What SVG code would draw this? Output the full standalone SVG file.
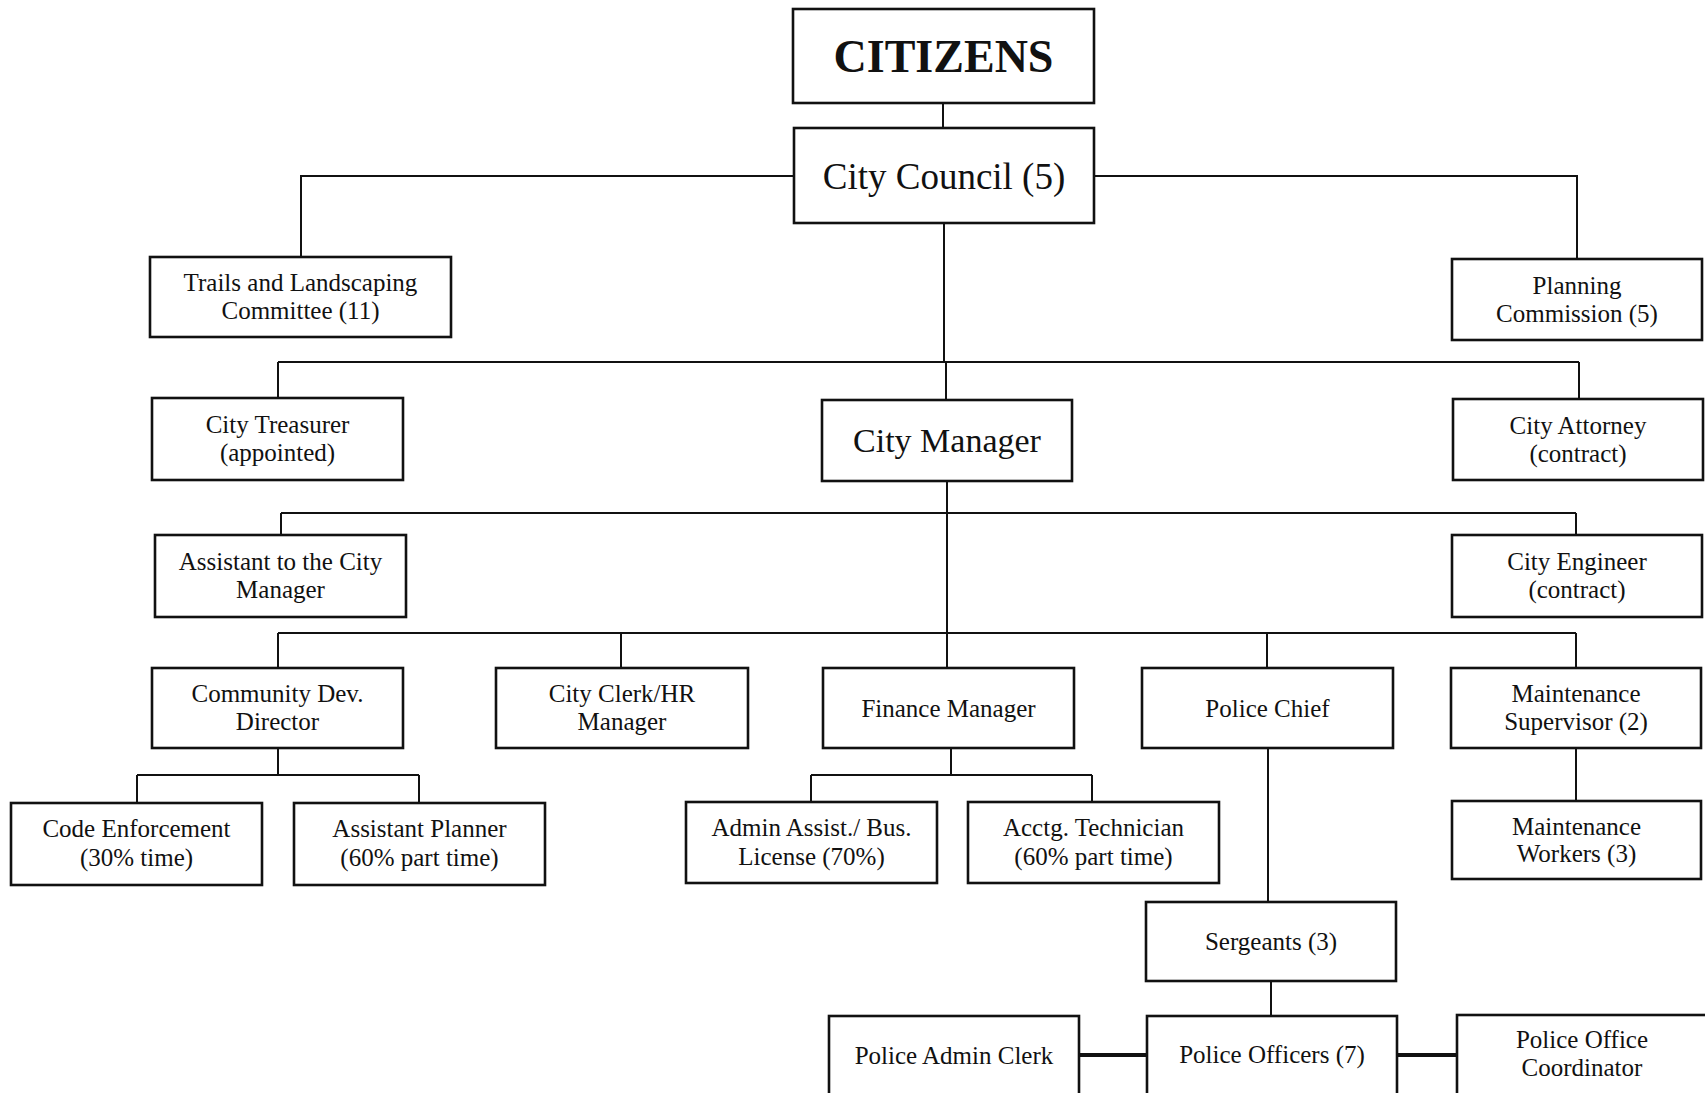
<svg xmlns="http://www.w3.org/2000/svg" width="1705" height="1093" viewBox="0 0 1705 1093">
<style>
.box{fill:#fff;stroke:#111;stroke-width:2.6}
.t{font-family:"Liberation Serif","Times New Roman",serif;font-size:25px;fill:#111;text-anchor:middle}
.b{font-size:34px}
.bc{font-size:37px}
.h{font-size:46px;font-weight:bold}
.c{fill:none;stroke:#111;stroke-width:2}
.k{fill:none;stroke:#111;stroke-width:4}
</style>
<rect width="1705" height="1093" fill="#fff"/>
<g id="connectors">
<path class="c" d="M943 103V128"/>
<path class="c" d="M794 176H301V257M1094 176H1577V259"/>
<path class="c" d="M944 223V362M278 362H1579M278 362V398M946 362V400M1579 362V399"/>
<path class="c" d="M947 481V668M281 513H1576M281 513V535M1576 513V535"/>
<path class="c" d="M278 633H1576M278 633V668M621 633V668M1267 633V668M1576 633V668"/>
<path class="c" d="M278 748V775M137 775H419M137 775V803M419 775V803"/>
<path class="c" d="M951 748V775M811 775H1092M811 775V802M1092 775V802"/>
<path class="c" d="M1268 748V902M1271 981V1016M1576 748V801"/>
<path class="k" d="M1079 1055H1147M1397 1055H1457"/>
</g>
<g id="citizens"><rect class="box" x="793" y="9" width="301" height="94"/><text class="t h" x="943.5" y="72">CITIZENS</text></g>
<g id="council"><rect class="box" x="794" y="128" width="300" height="95"/><text class="t bc" x="944" y="189">City Council (5)</text></g>
<g id="trails"><rect class="box" x="150" y="257" width="301" height="80"/><text class="t" x="300.5" y="291">Trails and Landscaping</text><text class="t" x="300.5" y="319">Committee (11)</text></g>
<g id="planning"><rect class="box" x="1452" y="259" width="250" height="81"/><text class="t" x="1577" y="294">Planning</text><text class="t" x="1577" y="322">Commission (5)</text></g>
<g id="treasurer"><rect class="box" x="152" y="398" width="251" height="82"/><text class="t" x="277.5" y="433">City Treasurer</text><text class="t" x="277.5" y="461">(appointed)</text></g>
<g id="manager"><rect class="box" x="822" y="400" width="250" height="81"/><text class="t b" x="947" y="452">City Manager</text></g>
<g id="attorney"><rect class="box" x="1453" y="399" width="250" height="81"/><text class="t" x="1578" y="434">City Attorney</text><text class="t" x="1578" y="462">(contract)</text></g>
<g id="assistant"><rect class="box" x="155" y="535" width="251" height="82"/><text class="t" x="280.5" y="570">Assistant to the City</text><text class="t" x="280.5" y="598">Manager</text></g>
<g id="engineer"><rect class="box" x="1452" y="535" width="250" height="82"/><text class="t" x="1577" y="570">City Engineer</text><text class="t" x="1577" y="598">(contract)</text></g>
<g id="commdev"><rect class="box" x="152" y="668" width="251" height="80"/><text class="t" x="277.5" y="702">Community Dev.</text><text class="t" x="277.5" y="730">Director</text></g>
<g id="clerk"><rect class="box" x="496" y="668" width="252" height="80"/><text class="t" x="622" y="702">City Clerk/HR</text><text class="t" x="622" y="730">Manager</text></g>
<g id="finance"><rect class="box" x="823" y="668" width="251" height="80"/><text class="t" x="948.5" y="717">Finance Manager</text></g>
<g id="policechief"><rect class="box" x="1142" y="668" width="251" height="80"/><text class="t" x="1267.5" y="717">Police Chief</text></g>
<g id="maintsup"><rect class="box" x="1451" y="668" width="250" height="80"/><text class="t" x="1576" y="702">Maintenance</text><text class="t" x="1576" y="730">Supervisor (2)</text></g>
<g id="code"><rect class="box" x="11" y="803" width="251" height="82"/><text class="t" x="136.5" y="837">Code Enforcement</text><text class="t" x="136.5" y="866">(30% time)</text></g>
<g id="asstplanner"><rect class="box" x="294" y="803" width="251" height="82"/><text class="t" x="419.5" y="837">Assistant Planner</text><text class="t" x="419.5" y="866">(60% part time)</text></g>
<g id="admin"><rect class="box" x="686" y="802" width="251" height="81"/><text class="t" x="811.5" y="836">Admin Assist./ Bus.</text><text class="t" x="811.5" y="865">License (70%)</text></g>
<g id="acctg"><rect class="box" x="968" y="802" width="251" height="81"/><text class="t" x="1093.5" y="836">Acctg. Technician</text><text class="t" x="1093.5" y="865">(60% part time)</text></g>
<g id="workers"><rect class="box" x="1452" y="801" width="249" height="78"/><text class="t" x="1576.5" y="835">Maintenance</text><text class="t" x="1576.5" y="862">Workers (3)</text></g>
<g id="sergeants"><rect class="box" x="1146" y="902" width="250" height="79"/><text class="t" x="1271" y="950">Sergeants (3)</text></g>
<g id="officers"><rect class="box" x="1147" y="1016" width="250" height="90"/><text class="t" x="1272" y="1063">Police Officers (7)</text></g>
<g id="adminclerk"><rect class="box" x="829" y="1016" width="250" height="90"/><text class="t" x="954" y="1064">Police Admin Clerk</text></g>
<g id="coordinator"><rect class="box" x="1457" y="1015" width="252" height="91"/><text class="t" x="1582" y="1048">Police Office</text><text class="t" x="1582" y="1076">Coordinator</text></g>
</svg>
